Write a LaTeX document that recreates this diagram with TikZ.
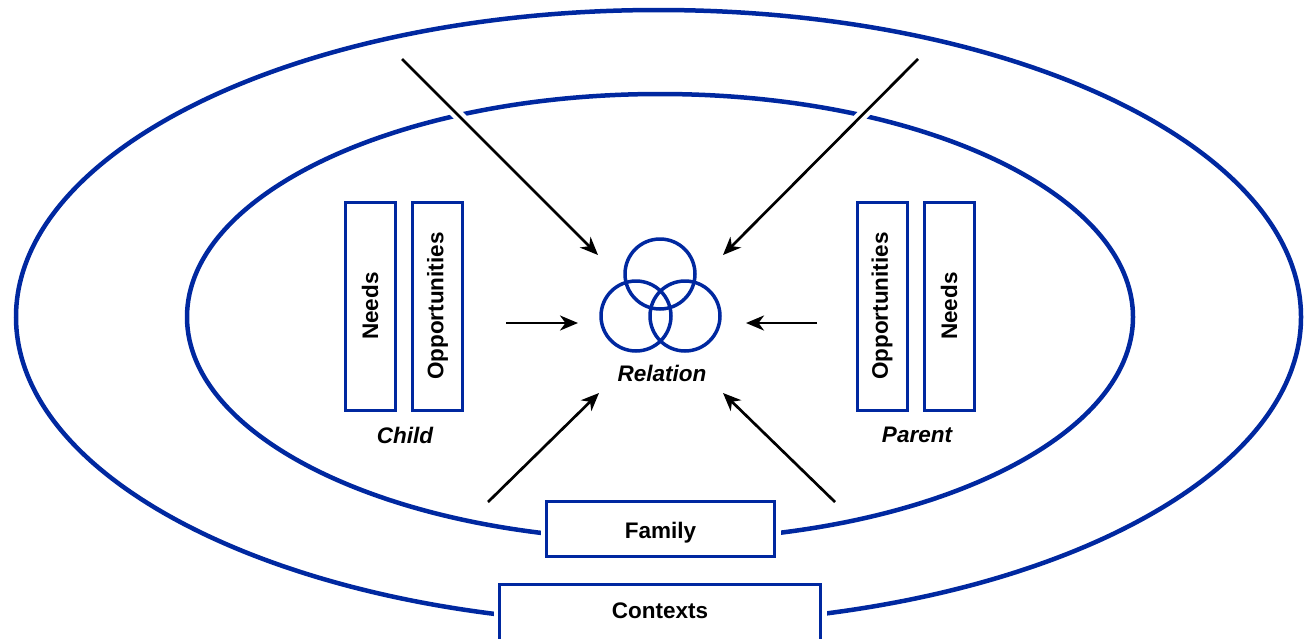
\documentclass[tikz,border=0pt]{standalone}
\usepackage{fontspec}
\setmainfont{Liberation Sans}
\usepackage{graphicx}
\usetikzlibrary{arrows.meta}
\definecolor{dblue}{RGB}{0,40,160}
\begin{document}
\begin{tikzpicture}[x=1pt,y=-1pt,
  ell/.style={draw=dblue,line width=4.5pt},
  bx/.style={draw=dblue,line width=3pt,fill=white,inner sep=0pt,
    font=\fontsize{22.5}{26}\selectfont\bfseries},
  ring/.style={circle,draw=dblue,line width=3.5pt,minimum size=70pt,inner sep=0pt},
  lbl/.style={font=\fontsize{22.5}{26}\selectfont\bfseries\itshape,inner sep=0pt},
  arr/.style={draw=black,line width=2.7pt,-{Stealth[length=18pt,width=15pt,inset=5.5pt]},
    preaction={draw=white,line width=11pt,-}}
]
\useasboundingbox[fill=white] (0,0) rectangle (1314,638);
% ellipses
\draw[ell] (658.5,317) ellipse [x radius=642.5, y radius=307];
\draw[ell] (660,317) ellipse [x radius=473, y radius=223];

% arrows
\coordinate (tlS) at (402,59);   \coordinate (tlE) at (598,255);
\coordinate (trS) at (918,59);   \coordinate (trE) at (723,255);
\coordinate (lS) at (506,323);   \coordinate (lE) at (578,323);
\coordinate (rS) at (817,323);   \coordinate (rE) at (746,323);
\coordinate (blS) at (488,502);  \coordinate (blE) at (599,393);
\coordinate (brS) at (835,502);  \coordinate (brE) at (723,393);
\draw[arr] (tlS) -- (tlE);
\draw[arr] (trS) -- (trE);
\draw[arr] (lS) -- (lE);
\draw[arr] (rS) -- (rE);
\draw[arr] (blS) -- (blE);
\draw[arr] (brS) -- (brE);

% child boxes
\node[bx,minimum width=50pt,minimum height=208pt] (cneeds) at (370,306) {\rotatebox{90}{Needs}};
\node[bx,minimum width=50pt,minimum height=208pt] (copp) at (437.5,306) {\rotatebox{90}{Opportunities}};
\node[lbl] (child) at (405,435) {Child};
% parent boxes
\node[bx,minimum width=50pt,minimum height=208pt] (popp) at (882,306) {\rotatebox{90}{Opportunities}};
\node[bx,minimum width=50pt,minimum height=208pt] (pneeds) at (949,306) {\rotatebox{90}{Needs}};
\node[lbl] (parent) at (917,435) {Parent};

% relation
\node[ring] (rtop) at (660,274) {};
\node[ring] (rleft) at (636,316) {};
\node[ring] (rright) at (685,316) {};
\node[lbl] (relation) at (662,373) {Relation};

% family and contexts
\node[bx,minimum width=228pt,minimum height=55pt,text height=20pt,text depth=2pt,
  preaction={draw=white,line width=12pt}] (family) at (660.5,529) {Family};
\node[bx,minimum width=321pt,inner sep=0pt,text height=34pt,text depth=40pt,anchor=base,
  preaction={draw=white,line width=12pt}] (contexts) at (660,618) {Contexts};
\end{tikzpicture}
\end{document}
